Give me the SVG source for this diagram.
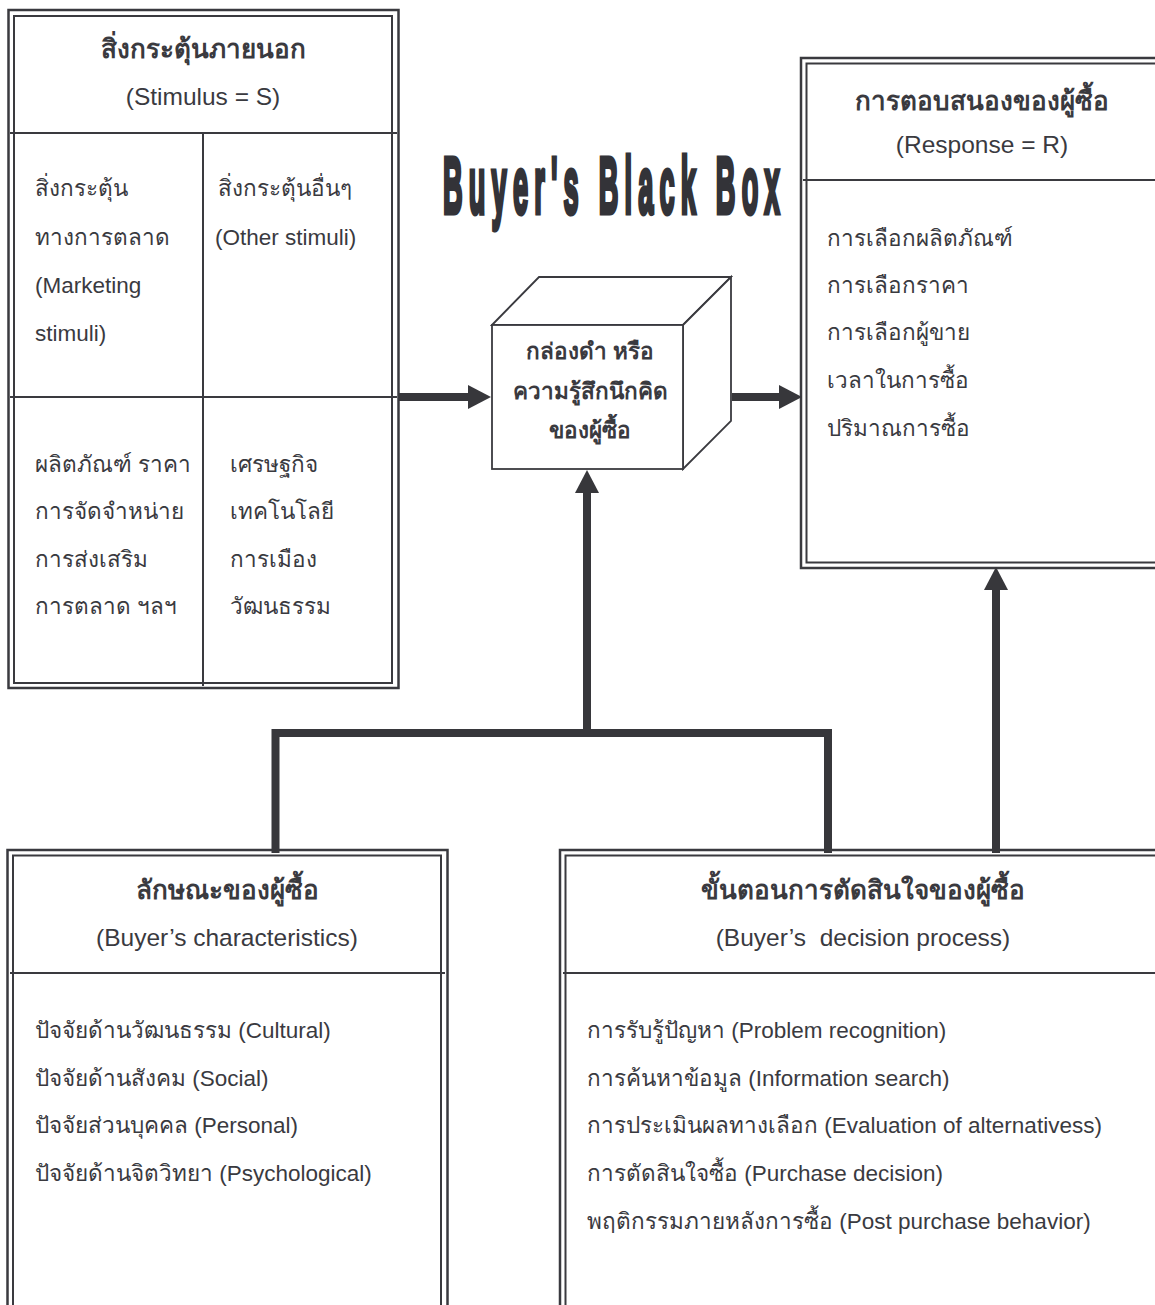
<svg xmlns="http://www.w3.org/2000/svg" width="1155" height="1305" viewBox="0 0 1155 1305">
  <style>
    .o { fill: none; stroke: #3a3a3f; stroke-width: 2.5; }
    .i { fill: none; stroke: #3a3a3f; stroke-width: 2; }
    .d { stroke: #3a3a3f; stroke-width: 2; }
    .t { font-family: "Liberation Sans", "Noto Sans", sans-serif; font-size: 22.5px; fill: #3a3a3f; }
    .h { font-family: "Liberation Sans", "Noto Sans", sans-serif; font-size: 26px; font-weight: bold; fill: #3a3a3f; text-anchor: middle; }
    .s { font-family: "Liberation Sans", "Noto Sans", sans-serif; font-size: 24.5px; fill: #3a3a3f; text-anchor: middle; }
    .b { font-family: "Liberation Sans", "Noto Sans", sans-serif; font-size: 22.5px; font-weight: bold; fill: #3a3a3f; text-anchor: middle; }
    .c { fill: none; stroke: #37373b; stroke-width: 8; }
    .cube { fill: #ffffff; stroke: #3a3a3f; stroke-width: 1.8; stroke-linejoin: miter; }
  </style>
  <defs>
    <marker id="ah" markerUnits="userSpaceOnUse" markerWidth="24" markerHeight="24" refX="0" refY="12" orient="auto">
      <path d="M0,0 L23,12 L0,24 Z" fill="#37373b"/>
    </marker>
  </defs>
  <rect width="1155" height="1305" fill="#ffffff"/>

  <text transform="translate(443,213) scale(0.34,1)" font-family="Liberation Sans, sans-serif" font-size="80" font-weight="bold" fill="#333338" stroke="#333338" stroke-width="5" textLength="990" lengthAdjust="spacing">Buyer's Black Box</text>

  <g id="stimulus">
    <rect class="o" x="8.5" y="10" width="390" height="678"/>
    <rect class="i" x="14" y="16" width="378" height="667"/>
    <line class="d" x1="10" y1="133" x2="397" y2="133"/>
    <line class="d" x1="10" y1="397" x2="397" y2="397"/>
    <line class="d" x1="203" y1="133" x2="203" y2="686"/>
    <text class="h" x="203" y="58">สิ่งกระตุ้นภายนอก</text>
    <text class="s" x="203" y="105">(Stimulus = S)</text>
    <text class="t" x="35" y="196">สิ่งกระตุ้น</text>
    <text class="t" x="35" y="245">ทางการตลาด</text>
    <text class="t" x="35" y="293">(Marketing</text>
    <text class="t" x="35" y="341">stimuli)</text>
    <text class="t" x="218" y="196">สิ่งกระตุ้นอื่นๆ</text>
    <text class="t" x="215" y="245">(Other stimuli)</text>
    <text class="t" x="35" y="472">ผลิตภัณฑ์ ราคา</text>
    <text class="t" x="35" y="519">การจัดจำหน่าย</text>
    <text class="t" x="35" y="567">การส่งเสริม</text>
    <text class="t" x="35" y="614">การตลาด ฯลฯ</text>
    <text class="t" x="230" y="472">เศรษฐกิจ</text>
    <text class="t" x="230" y="519">เทคโนโลยี</text>
    <text class="t" x="230" y="567">การเมือง</text>
    <text class="t" x="230" y="614">วัฒนธรรม</text>
  </g>

  <g id="blackbox">
    <polygon class="cube" points="492,325 539,277 731,277 683,325"/>
    <polygon class="cube" points="683,325 731,277 731,421 683,469"/>
    <rect class="cube" x="492" y="325" width="191" height="144"/>
    <text class="b" x="590" y="359">กล่องดำ หรือ</text>
    <text class="b" x="590" y="399">ความรู้สึกนึกคิด</text>
    <text class="b" x="590" y="438">ของผู้ซื้อ</text>
  </g>

  <g id="response">
    <rect class="o" x="801" y="58" width="400" height="510"/>
    <rect class="i" x="806.5" y="63.5" width="400" height="499"/>
    <line class="d" x1="803" y1="180" x2="1155" y2="180"/>
    <text class="h" x="982" y="110">การตอบสนองของผู้ซื้อ</text>
    <text class="s" x="982" y="153">(Response = R)</text>
    <text class="t" x="827" y="246">การเลือกผลิตภัณฑ์</text>
    <text class="t" x="827" y="293">การเลือกราคา</text>
    <text class="t" x="827" y="340">การเลือกผู้ขาย</text>
    <text class="t" x="827" y="388">เวลาในการซื้อ</text>
    <text class="t" x="827" y="436">ปริมาณการซื้อ</text>
  </g>

  <g id="characteristics">
    <rect class="o" x="7.5" y="850" width="440" height="500"/>
    <rect class="i" x="13" y="855.5" width="428" height="500"/>
    <line class="d" x1="10" y1="973" x2="445" y2="973"/>
    <text class="h" x="227" y="899">ลักษณะของผู้ซื้อ</text>
    <text class="s" x="227" y="946">(Buyer’s characteristics)</text>
    <text class="t" x="35" y="1038">ปัจจัยด้านวัฒนธรรม (Cultural)</text>
    <text class="t" x="35" y="1086">ปัจจัยด้านสังคม (Social)</text>
    <text class="t" x="35" y="1133">ปัจจัยส่วนบุคคล (Personal)</text>
    <text class="t" x="35" y="1181">ปัจจัยด้านจิตวิทยา (Psychological)</text>
  </g>

  <g id="decision">
    <rect class="o" x="560" y="850" width="650" height="500"/>
    <rect class="i" x="565.5" y="855.5" width="650" height="500"/>
    <line class="d" x1="563" y1="973" x2="1155" y2="973"/>
    <text class="h" x="863" y="899">ขั้นตอนการตัดสินใจของผู้ซื้อ</text>
    <text class="s" x="863" y="946" xml:space="preserve">(Buyer’s  decision process)</text>
    <text class="t" x="587" y="1038">การรับรู้ปัญหา (Problem recognition)</text>
    <text class="t" x="587" y="1086">การค้นหาข้อมูล (Information search)</text>
    <text class="t" x="587" y="1133">การประเมินผลทางเลือก (Evaluation of alternativess)</text>
    <text class="t" x="587" y="1181">การตัดสินใจซื้อ (Purchase decision)</text>
    <text class="t" x="587" y="1229">พฤติกรรมภายหลังการซื้อ (Post purchase behavior)</text>
  </g>

  <g id="connectors">
    <line class="c" x1="399" y1="397" x2="468" y2="397" marker-end="url(#ah)"/>
    <line class="c" x1="732" y1="397" x2="779" y2="397" marker-end="url(#ah)"/>
    <path class="c" d="M275.5,853 V733 H828 V853" stroke-linejoin="miter"/>
    <line class="c" x1="587" y1="733" x2="587" y2="493" marker-end="url(#ah)"/>
    <line class="c" x1="996" y1="853" x2="996" y2="590" marker-end="url(#ah)"/>
  </g>
</svg>
